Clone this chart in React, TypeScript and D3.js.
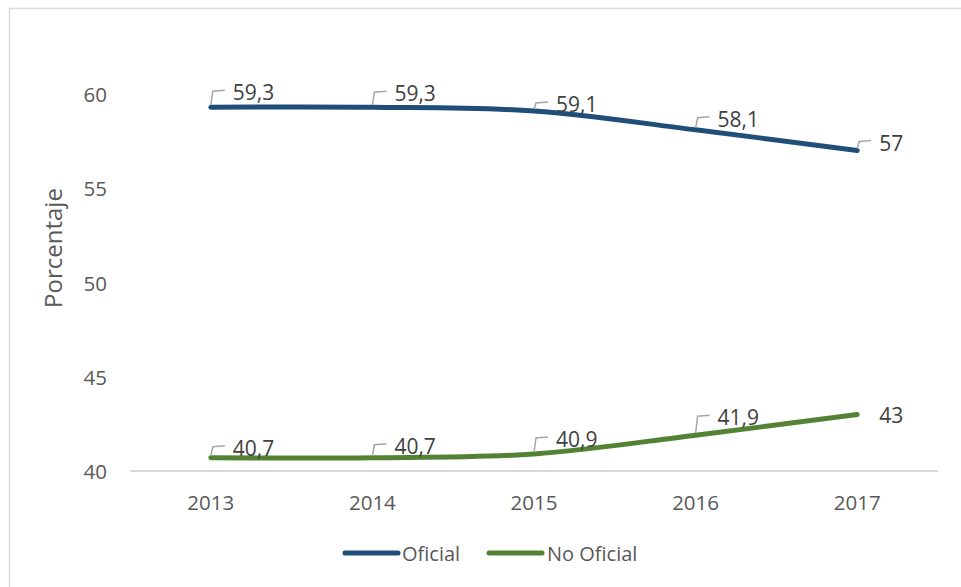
import React from "react";
import * as d3 from "d3";

const years = ["2013", "2014", "2015", "2016", "2017"];
const oficial = [59.3, 59.3, 59.1, 58.1, 57];
const noOficial = [40.7, 40.7, 40.9, 41.9, 43];
const oficialLabels = ["59,3", "59,3", "59,1", "58,1", "57"];
const noOficialLabels = ["40,7", "40,7", "40,9", "41,9", "43"];
const yTicks = [40, 45, 50, 55, 60];

// label vertical offsets (px) of text centre relative to point, and whether a leader line is drawn
const oficialLabelDy = [-15, -14, -7, -11, -8];
const noOficialLabelDy = [-10, -12, -15, -18, 1];
const noOficialLeader = [true, true, true, true, false];
const oficialLeader = [true, true, true, true, true];

const W = 961;
const H = 587;
const FONT = "'Open Sans', sans-serif";

export default function App() {
  const x = d3.scaleBand<string>().domain(years).range([130, 938]);
  const y = d3.scaleLinear().domain([40, 60]).range([471, 94]);
  const cx = (d: string) => (x(d) as number) + x.bandwidth() / 2;

  const line = d3
    .line<number>()
    .x((_, i) => cx(years[i]))
    .y((v) => y(v))
    .curve(d3.curveCatmullRom.alpha(0));

  const series = [
    { name: "Oficial", values: oficial, labels: oficialLabels, dy: oficialLabelDy, leader: oficialLeader, color: "#1F4E79" },
    { name: "No Oficial", values: noOficial, labels: noOficialLabels, dy: noOficialLabelDy, leader: noOficialLeader, color: "#548235" },
  ];

  return (
    <div style={{ position: "absolute", left: 0, top: 0 }}>
      <svg width={W} height={H} style={{ display: "block", fontFamily: FONT }}>
        <rect x={0} y={0} width={W} height={H} fill="#fff" />
        <rect x={9.5} y={8.5} width={W + 20} height={H + 20} fill="none" stroke="#D9D9D9" strokeWidth={1.5} />

        {/* y tick labels */}
        {yTicks.map((t) => (
          <text key={t} x={107} y={y(t)} textAnchor="end" dominantBaseline="central" fontSize={20.5} fill="#595959">
            {t}
          </text>
        ))}
        {/* y axis title */}
        <text
          transform={`translate(52,248) rotate(-90)`}
          textAnchor="middle"
          dominantBaseline="central"
          fontSize={24}
          fill="#595959"
        >
          Porcentaje
        </text>

        {/* x axis line */}
        <line x1={130} x2={938} y1={y(40)} y2={y(40)} stroke="#D9D9D9" strokeWidth={2} />
        {years.map((yr) => (
          <text key={yr} x={cx(yr)} y={502} textAnchor="middle" dominantBaseline="central" fontSize={20.5} fill="#595959">
            {yr}
          </text>
        ))}

        {/* lines */}
        {series.map((s) => (
          <path key={s.name} d={line(s.values) || ""} fill="none" stroke={s.color} strokeWidth={5} strokeLinecap="round" strokeLinejoin="round" />
        ))}

        {/* data labels */}
        {series.map((s) =>
          s.values.map((v, i) => {
            const px = cx(years[i]);
            const py = y(v);
            const ty = py + s.dy[i];
            return (
              <g key={s.name + i}>
                {s.leader[i] && (
                  <path
                    d={`M${px},${py - 2} L${px + 2},${ty - 1} L${px + 14},${ty - 2}`}
                    fill="none"
                    stroke="#A6A6A6"
                    strokeWidth={1.5}
                  />
                )}
                <text x={px + 22} y={ty} dominantBaseline="central" fontSize={21} fill="#404040">
                  {s.labels[i]}
                </text>
              </g>
            );
          })
        )}

        {/* legend */}
        <line x1={345} x2={398} y1={553} y2={553} stroke="#1F4E79" strokeWidth={5} strokeLinecap="round" />
        <text x={402} y={553} dominantBaseline="central" fontSize={20} fill="#595959">
          Oficial
        </text>
        <line x1={489} x2={542} y1={553} y2={553} stroke="#548235" strokeWidth={5} strokeLinecap="round" />
        <text x={547} y={553} dominantBaseline="central" fontSize={20} fill="#595959">
          No Oficial
        </text>
      </svg>
    </div>
  );
}
